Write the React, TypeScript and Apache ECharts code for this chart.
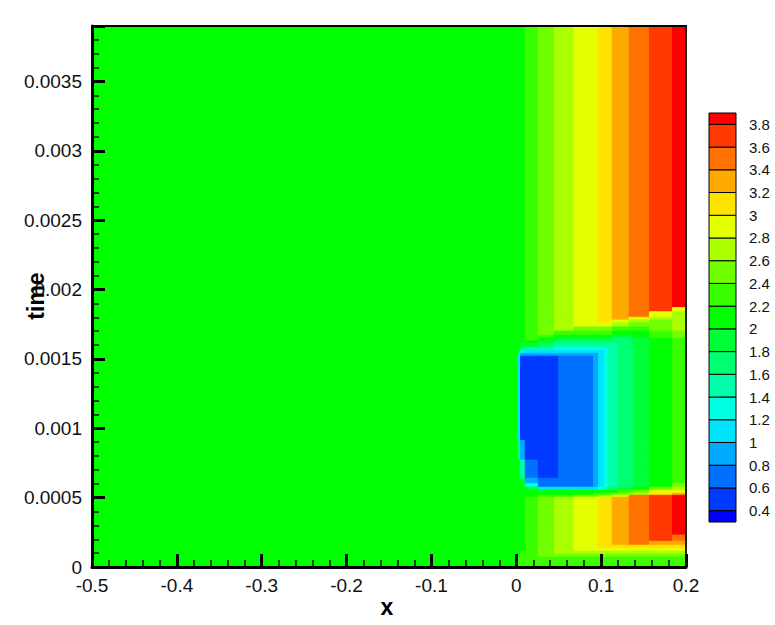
import React, { useEffect, useRef } from 'react';
import * as echarts from 'echarts';

// x boundaries of the field columns (x axis units)
const xEdges = [-0.5, 0.002, 0.005, 0.0106, 0.026, 0.045, 0.05, 0.068, 0.091, 0.097, 0.104, 0.109, 0.113, 0.12, 0.133, 0.138, 0.157, 0.184, 0.2];

// time boundaries of the field rows, from top (latest) to bottom
const tEdges = [0.0039, 0.00187, 0.00184, 0.0018, 0.00178, 0.00176, 0.00173, 0.0017, 0.00167, 0.00165, 0.00163, 0.00161, 0.00158, 0.00156, 0.00154, 0.00152, 0.00091, 0.00077, 0.00064, 0.0006, 0.000575, 0.000553, 0.000531, 0.000517, 0.000503, 0.00023, 0.000185, 0.000157, 0.000135, 0.000113, 0.000092, 0.00007, 0];

// contour values read per row (top to bottom) and per column (left to right)
const upperStripes = [2.1, 2.1, 2.1, 2.3, 2.5, 2.7, 2.7, 2.9, 2.9, 3.1, 3.1, 3.1, 3.3, 3.3, 3.5, 3.5, 3.7, 3.85];
const upperRim1 = [2.1, 2.1, 2.1, 2.3, 2.5, 2.7, 2.7, 2.9, 2.9, 3.1, 3.1, 3.1, 3.3, 3.3, 3.5, 3.5, 3.7, 2.9];
const upperRim2 = [2.1, 2.1, 2.1, 2.3, 2.5, 2.7, 2.7, 2.9, 2.9, 3.1, 3.1, 3.1, 3.3, 3.3, 3.5, 3.5, 2.9, 2.7];
const upperRim3 = [2.1, 2.1, 2.1, 2.3, 2.5, 2.7, 2.7, 2.9, 2.9, 3.1, 3.1, 3.1, 3.3, 3.3, 2.9, 2.9, 2.7, 2.7];
const upperRim4 = [2.1, 2.1, 2.1, 2.3, 2.5, 2.7, 2.7, 2.9, 2.9, 3.1, 3.1, 3.1, 2.9, 2.9, 2.7, 2.7, 2.5, 2.7];
const upperRim5 = [2.1, 2.1, 2.1, 2.3, 2.5, 2.7, 2.7, 2.9, 2.9, 2.9, 2.9, 2.9, 2.7, 2.7, 2.5, 2.5, 2.5, 2.7];
const upperRim6 = [2.1, 2.1, 2.1, 2.3, 2.5, 2.7, 2.7, 2.5, 2.5, 2.5, 2.5, 2.5, 2.3, 2.3, 2.3, 2.3, 2.5, 2.7];
const upperRim7 = [2.1, 2.1, 2.1, 2.3, 2.5, 2.3, 2.3, 2.3, 2.3, 2.3, 2.3, 2.3, 2.1, 2.1, 2.1, 2.1, 2.3, 2.5];
const upperRim8 = [2.1, 2.1, 2.1, 2.3, 2.3, 2.1, 2.1, 2.1, 2.1, 2.1, 2.1, 2.1, 1.9, 1.9, 1.9, 2.1, 2.3, 2.5];
const ring1 = [2.1, 2.1, 2.1, 2.3, 2.1, 1.9, 1.9, 1.9, 1.9, 1.9, 1.9, 1.9, 1.7, 1.7, 1.9, 1.9, 2.1, 2.3];
const ring2 = [2.1, 2.1, 2.1, 2.1, 1.9, 1.7, 1.7, 1.7, 1.7, 1.7, 1.7, 1.7, 1.7, 1.7, 1.7, 1.9, 2.1, 2.3];
const ring3 = [2.1, 2.1, 1.9, 1.9, 1.7, 1.5, 1.5, 1.5, 1.5, 1.5, 1.5, 1.5, 1.5, 1.7, 1.7, 1.9, 2.1, 2.3];
const ring4 = [2.1, 2.1, 1.7, 1.5, 1.5, 1.3, 1.3, 1.3, 1.3, 1.3, 1.3, 1.5, 1.5, 1.7, 1.7, 1.9, 2.1, 2.3];
const ring5 = [2.1, 1.9, 1.3, 1.1, 1.1, 1.1, 1.1, 1.1, 1.1, 1.1, 1.3, 1.5, 1.5, 1.7, 1.7, 1.9, 2.1, 2.3];
const ring6 = [2.1, 1.5, 0.9, 0.9, 0.9, 0.9, 0.9, 0.9, 0.9, 1.1, 1.3, 1.5, 1.5, 1.7, 1.7, 1.9, 2.1, 2.3];
const pocket = [2.1, 1.1, 0.5, 0.5, 0.5, 0.5, 0.7, 0.7, 0.9, 1.1, 1.3, 1.5, 1.5, 1.7, 1.7, 1.9, 2.1, 2.3];
const pocketLow1 = [2.1, 1.7, 0.9, 0.5, 0.5, 0.5, 0.7, 0.7, 0.9, 1.1, 1.3, 1.5, 1.5, 1.7, 1.7, 1.9, 2.1, 2.3];
const pocketLow2 = [2.1, 2.1, 1.5, 0.7, 0.5, 0.5, 0.7, 0.7, 0.9, 1.1, 1.3, 1.5, 1.5, 1.7, 1.7, 1.9, 2.1, 2.3];
const pocketLow3 = [2.1, 2.1, 1.9, 0.9, 0.7, 0.7, 0.7, 0.7, 0.9, 1.1, 1.3, 1.5, 1.5, 1.7, 1.7, 1.9, 2.1, 2.3];
const pocketLow4 = [2.1, 2.1, 2.1, 1.3, 0.7, 0.7, 0.7, 0.7, 0.9, 1.1, 1.3, 1.5, 1.5, 1.7, 1.7, 1.9, 2.1, 2.5];
const lowerRim1 = [2.1, 2.1, 2.1, 1.9, 1.1, 1.1, 1.1, 1.1, 1.1, 1.3, 1.5, 1.7, 1.7, 1.9, 1.9, 2.1, 2.5, 2.7];
const lowerRim2 = [2.1, 2.1, 2.1, 2.1, 2.1, 2.1, 2.1, 2.1, 2.1, 2.1, 2.1, 2.1, 2.1, 2.3, 2.3, 2.5, 2.9, 2.9];
const lowerRim3 = [2.1, 2.1, 2.1, 2.1, 2.1, 2.1, 2.1, 2.1, 2.3, 2.3, 2.3, 2.3, 2.5, 2.5, 2.7, 2.7, 3.1, 3.3];
const lowerRim4 = [2.1, 2.1, 2.1, 2.1, 2.3, 2.3, 2.3, 2.5, 2.5, 2.7, 2.7, 2.7, 2.9, 2.9, 3.5, 3.5, 3.7, 3.85];
const lowerStripes = [2.1, 2.1, 2.1, 2.3, 2.5, 2.7, 2.7, 2.9, 2.9, 3.1, 3.1, 3.1, 3.3, 3.3, 3.5, 3.5, 3.7, 3.85];
const base1 = [2.1, 2.1, 2.1, 2.3, 2.5, 2.7, 2.7, 2.9, 2.9, 3.1, 3.1, 3.1, 3.3, 3.3, 3.5, 3.5, 3.7, 3.5];
const base2 = [2.1, 2.1, 2.1, 2.3, 2.5, 2.7, 2.7, 2.9, 2.9, 3.1, 3.1, 3.1, 3.3, 3.3, 3.5, 3.5, 3.3, 3.3];
const base3 = [2.1, 2.1, 2.1, 2.3, 2.5, 2.7, 2.7, 2.9, 2.9, 3.1, 3.1, 3.1, 3.1, 3.1, 3.1, 3.1, 3.1, 3.1];
const base4 = [2.1, 2.1, 2.1, 2.3, 2.5, 2.7, 2.7, 2.9, 2.9, 2.9, 2.9, 2.9, 2.9, 2.9, 2.9, 2.9, 2.9, 2.9];
const base5 = [2.1, 2.1, 2.3, 2.3, 2.5, 2.7, 2.7, 2.7, 2.7, 2.7, 2.7, 2.7, 2.7, 2.7, 2.7, 2.7, 2.7, 2.7];
const base6 = [2.1, 2.1, 2.3, 2.3, 2.5, 2.5, 2.5, 2.5, 2.5, 2.5, 2.5, 2.5, 2.5, 2.5, 2.5, 2.5, 2.5, 2.5];
const base7 = [2.1, 2.3, 2.3, 2.3, 2.3, 2.3, 2.3, 2.3, 2.3, 2.3, 2.3, 2.3, 2.3, 2.3, 2.3, 2.3, 2.3, 2.3];

const fieldRows = [
  upperStripes, upperRim1, upperRim2, upperRim3, upperRim4, upperRim5, upperRim6, upperRim7, upperRim8,
  ring1, ring2, ring3, ring4, ring5, ring6,
  pocket, pocketLow1, pocketLow2, pocketLow3, pocketLow4,
  lowerRim1, lowerRim2, lowerRim3, lowerRim4,
  lowerStripes, base1, base2, base3, base4, base5, base6, base7,
];

// contour levels shown on the legend bar
const contourLevels = [0.4, 0.6, 0.8, 1, 1.2, 1.4, 1.6, 1.8, 2, 2.2, 2.4, 2.6, 2.8, 3, 3.2, 3.4, 3.6, 3.8];
const legendEnds = [0.3, 3.9];

const palette = [
  '#0000ff', '#0039ff', '#0071ff', '#00aaff', '#00e3ff', '#00ffe3', '#00ffaa', '#00ff71', '#00ff39',
  '#00ff00', '#39ff00', '#71ff00', '#aaff00', '#e3ff00', '#ffe300', '#ffaa00', '#ff7100', '#ff3900', '#ff0000',
];

function bandColor(v: number) {
  let i = 0;
  while (i < contourLevels.length && v >= contourLevels[i]) i++;
  return palette[i];
}

const sansFamily = '"Liberation Sans", Arial, Helvetica, sans-serif';

export default function App() {
  const ref = useRef<HTMLDivElement>(null);
  useEffect(() => {
    const chart = echarts.init(ref.current!, null, { renderer: 'svg' });
    const cells: number[][] = [];
    fieldRows.forEach((row, r) =>
      row.forEach((v, c) => cells.push([xEdges[c], xEdges[c + 1], tEdges[r + 1], tEdges[r], v]))
    );
    const bounds = [legendEnds[0], ...contourLevels, legendEnds[1]];
    const legendBands: number[][] = [];
    for (let i = 0; i < bounds.length - 1; i++) legendBands.push([0, 1, bounds[i], bounds[i + 1], i]);

    const tickFont = { fontFamily: sansFamily, fontSize: 19, color: '#111', lineHeight: 18 };
    const tickStyle = { color: '#000', width: 3 };

    chart.setOption({
      animation: false,
      backgroundColor: '#fff',
      grid: [
        { left: 92, top: 26, width: 594, height: 541, outerBoundsMode: 'none' },
        { left: 709, top: 113, width: 27, height: 409, outerBoundsMode: 'none' },
      ],
      xAxis: [
        {
          type: 'value', gridIndex: 0, min: -0.5, max: 0.2, interval: 0.1, position: 'bottom', z: 10,
          axisLine: { show: true, onZero: false, lineStyle: { color: '#000', width: 3 } },
          axisTick: { show: true, inside: true, length: 13, lineStyle: tickStyle },
          minorTick: { show: true, splitNumber: 5, length: 7, lineStyle: { color: '#000', width: 1.5 } },
          splitLine: { show: false },
          minorSplitLine: { show: false },
          axisLabel: { ...tickFont, margin: 9 },
        },
        {
          type: 'value', gridIndex: 0, min: -0.5, max: 0.2, position: 'top', z: 10,
          axisLine: { show: true, onZero: false, lineStyle: { color: '#000', width: 2 } },
          axisTick: { show: false }, axisLabel: { show: false }, splitLine: { show: false },
        },
        { type: 'value', gridIndex: 1, min: 0, max: 1, show: false },
      ],
      yAxis: [
        {
          type: 'value', gridIndex: 0, min: 0, max: 0.0039, interval: 0.0005, position: 'left', z: 10,
          axisLine: { show: true, onZero: false, lineStyle: { color: '#000', width: 3 } },
          axisTick: { show: true, inside: true, length: 13, lineStyle: tickStyle },
          minorTick: { show: true, splitNumber: 5, length: 7, lineStyle: { color: '#000', width: 1.5 } },
          splitLine: { show: false },
          minorSplitLine: { show: false },
          axisLabel: { ...tickFont, margin: 10, showMaxLabel: false, padding: [0, 0, 4, 0] },
        },
        {
          type: 'value', gridIndex: 0, min: 0, max: 0.0039, position: 'right', z: 10,
          axisLine: { show: true, onZero: false, lineStyle: { color: '#222', width: 2 } },
          axisTick: { show: false }, axisLabel: { show: false }, splitLine: { show: false },
        },
        {
          type: 'value', gridIndex: 1, min: legendEnds[0], max: legendEnds[1], position: 'right',
          axisLine: { show: false }, axisTick: { show: false }, splitLine: { show: false },
          axisLabel: {
            customValues: contourLevels,
            fontFamily: sansFamily, fontSize: 15, color: '#111',
            margin: 13, padding: [7, 0, 0, 0],
            formatter: (v: number) => String(Math.round(v * 10) / 10),
          },
        },
      ],
      series: [
        {
          type: 'custom', xAxisIndex: 0, yAxisIndex: 0, data: cells, clip: true, z: 1,
          encode: { x: [0, 1], y: [2, 3] },
          renderItem: (_p: any, api: any) => {
            const a = api.coord([api.value(0), api.value(3)]);
            const b = api.coord([api.value(1), api.value(2)]);
            const fill = bandColor(api.value(4));
            return {
              type: 'rect',
              shape: { x: a[0], y: a[1], width: b[0] - a[0], height: b[1] - a[1] },
              style: { fill, stroke: fill, lineWidth: 1 },
            };
          },
        },
        {
          type: 'custom', xAxisIndex: 2, yAxisIndex: 2, data: legendBands, z: 3,
          encode: { x: [0, 1], y: [2, 3] },
          renderItem: (_p: any, api: any) => {
            const a = api.coord([api.value(0), api.value(3)]);
            const b = api.coord([api.value(1), api.value(2)]);
            return {
              type: 'rect',
              shape: { x: a[0], y: a[1], width: b[0] - a[0], height: b[1] - a[1] },
              style: { fill: palette[api.value(4)], stroke: '#000', lineWidth: 1 },
            };
          },
        },
      ],
      graphic: [
        {
          type: 'text', x: 387, y: 607, z: 20,
          style: { text: 'x', fontFamily: sansFamily, fontWeight: 'bold', fontSize: 23, fill: '#000', align: 'center', verticalAlign: 'middle' },
        },
        {
          type: 'text', x: 36, y: 296, rotation: Math.PI / 2, z: 20,
          style: { text: 'time', fontFamily: sansFamily, fontWeight: 'bold', fontSize: 23, fill: '#000', align: 'center', verticalAlign: 'middle' },
        },
      ],
    });
    return () => chart.dispose();
  }, []);
  return <div ref={ref} style={{ position: 'absolute', left: 0, top: 0, width: 775, height: 625 }} />;
}
